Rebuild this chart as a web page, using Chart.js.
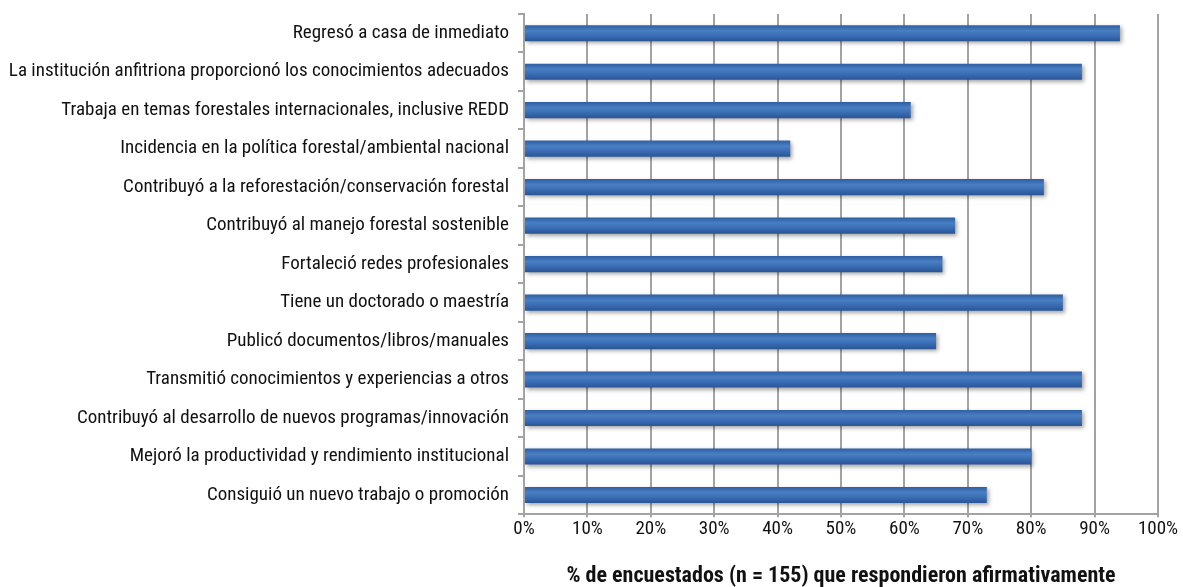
<!DOCTYPE html>
<html>
<head>
<meta charset="utf-8">
<script src="https://cdn.jsdelivr.net/npm/chart.js@4"></script>
<style>
  html, body { margin: 0; padding: 0; background: #fff; }
  #wrap { width: 1183px; height: 587px; }
</style>
</head>
<body>
<div id="wrap"><canvas id="grafica"></canvas></div>
<script>
const categorias = [
  'Regresó a casa de inmediato',
  'La institución anfitriona proporcionó los conocimientos adecuados',
  'Trabaja en temas forestales internacionales, inclusive REDD',
  'Incidencia en la política forestal/ambiental nacional',
  'Contribuyó a la reforestación/conservación forestal',
  'Contribuyó al manejo forestal sostenible',
  'Fortaleció redes profesionales',
  'Tiene un doctorado o maestría',
  'Publicó documentos/libros/manuales',
  'Transmitió conocimientos y experiencias a otros',
  'Contribuyó al desarrollo de nuevos programas/innovación',
  'Mejoró la productividad y rendimiento institucional',
  'Consiguió un nuevo trabajo o promoción'
];
const porcentajes = [94, 88, 61, 42, 82, 68, 66, 85, 65, 88, 88, 80, 73];
const tituloEje = '% de encuestados (n = 155) que respondieron afirmativamente';

const fuente = "'Liberation Sans Narrow', 'Arial Narrow', 'Roboto Condensed', sans-serif";

// degradado vertical para cada barra
function colorBarra(c) {
  const chart = c.chart;
  const area = chart.chartArea;
  if (!area || !chart.scales.y) return '#3b6fb6';
  const y = chart.scales.y.getPixelForValue(c.dataIndex);
  const g = chart.ctx.createLinearGradient(0, y - 8, 0, y + 8);
  g.addColorStop(0, '#2f5ea3');
  g.addColorStop(0.35, '#4a7fc4');
  g.addColorStop(0.6, '#3c70b7');
  g.addColorStop(1, '#2a5597');
  return g;
}

const sombra = {
  id: 'sombra',
  beforeDatasetsDraw(chart) {
    const ctx = chart.ctx;
    ctx.save();
    ctx.shadowColor = 'rgba(0,0,0,0.35)';
    ctx.shadowBlur = 4;
    ctx.shadowOffsetX = 2;
    ctx.shadowOffsetY = 2;
  },
  afterDatasetsDraw(chart) {
    chart.ctx.restore();
  }
};

new Chart(document.getElementById('grafica').getContext('2d'), {
  type: 'bar',
  data: {
    labels: categorias,
    datasets: [{
      data: porcentajes,
      backgroundColor: colorBarra,
      borderWidth: 0,
      barPercentage: 0.42,
      categoryPercentage: 1
    }]
  },
  options: {
    indexAxis: 'y',
    responsive: true,
    maintainAspectRatio: false,
    animation: false,
    layout: { padding: { left: 4, right: 25, top: 14, bottom: 0 } },
    plugins: { legend: { display: false }, tooltip: { enabled: false } },
    scales: {
      x: {
        min: 0,
        max: 100,
        ticks: {
          stepSize: 10,
          callback: v => v + '%',
          color: '#111',
          font: { family: fuente, size: 19 },
          padding: 1
        },
        grid: { color: '#a3a3a3', lineWidth: 2, tickLength: 3, drawTicks: true },
        border: { color: '#a3a3a3', width: 2 },
        title: {
          display: true,
          text: tituloEje,
          color: '#111',
          font: { family: fuente, size: 22, weight: 'bold', lineHeight: 1 },
          padding: { top: 23, bottom: 0 }
        }
      },
      y: {
        afterFit(s) { s.width = 520; s.paddingTop = 0; s.paddingBottom = 0; },
        ticks: {
          color: '#111',
          font: { family: fuente, size: 19 },
          padding: 9
        },
        grid: { display: true, drawOnChartArea: false, color: '#a3a3a3', lineWidth: 2, tickLength: 6, offset: true },
        border: { color: '#a3a3a3', width: 2 }
      }
    }
  },
  plugins: [sombra]
});
</script>
</body>
</html>
